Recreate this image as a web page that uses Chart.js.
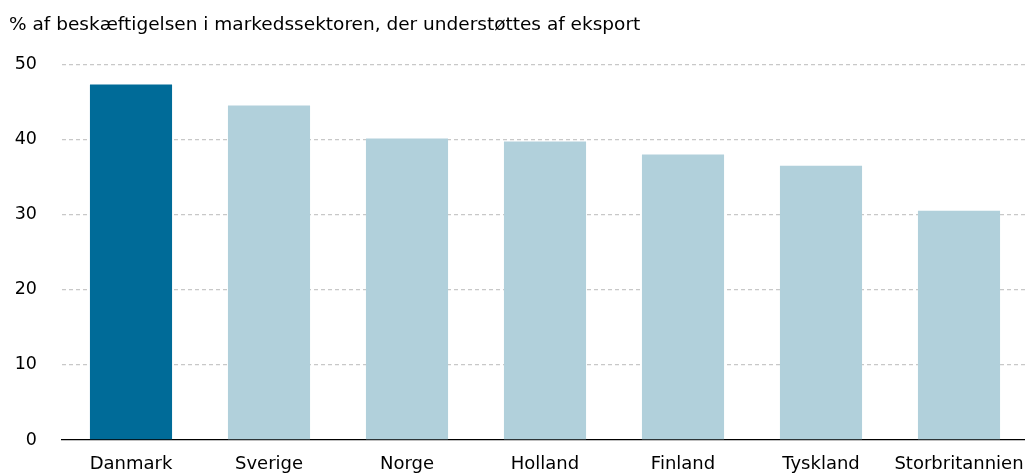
<!DOCTYPE html>
<html>
<head>
<meta charset="utf-8">
<script src="https://cdn.jsdelivr.net/npm/chart.js@4.4.1/dist/chart.umd.min.js"></script>
<style>
  html, body { margin: 0; padding: 0; background: #fff; overflow: hidden; }
  #wrap { width: 1025px; height: 475px; overflow: hidden; }
  #inner { width: 1028px; height: 475px; position: relative; }
</style>
</head>
<body>
<div id="wrap"><div id="inner"><canvas id="c"></canvas></div></div>
<script>
const categories = ["Danmark", "Sverige", "Norge", "Holland", "Finland", "Tyskland", "Storbritannien"];
const values = [47.3, 44.5, 40.1, 39.7, 38.0, 36.5, 30.5];
const barColors = ["#006b98", "#b1d0db", "#b1d0db", "#b1d0db", "#b1d0db", "#b1d0db", "#b1d0db"];
const yTicks = [0, 10, 20, 30, 40, 50];
const titleText = "% af beskæftigelsen i markedssektoren, der understøttes af eksport";

const FONT = "'DejaVu Sans', Verdana, sans-serif";

new Chart(document.getElementById('c'), {
  type: 'bar',
  data: {
    labels: categories,
    datasets: [{
      data: values,
      backgroundColor: barColors,
      borderWidth: 0,
      categoryPercentage: 0.595,
      barPercentage: 1.0
    }]
  },
  options: {
    responsive: true,
    maintainAspectRatio: false,
    animation: false,
    layout: { padding: { left: 9, right: 0, top: 0, bottom: 0 } },
    plugins: {
      legend: { display: false },
      tooltip: { enabled: false },
      title: {
        display: true,
        text: titleText,
        align: 'start',
        color: '#000',
        font: { family: FONT, size: 18.5, weight: 'normal', lineHeight: 1.2 },
        padding: { top: 14, bottom: 28 }
      }
    },
    scales: {
      x: {
        grid: { display: false, drawTicks: false },
        border: { display: true, color: '#000', width: 1.2 },
        afterFit: (s) => { s.paddingLeft = 0; s.paddingRight = 0; s.height = 35; },
        ticks: {
          color: '#000',
          font: { family: FONT, size: 18, lineHeight: 1.2 },
          padding: 14,
          maxRotation: 0,
          autoSkip: false
        }
      },
      y: {
        min: 0,
        max: 50,
        afterBuildTicks: (s) => { s.ticks = yTicks.map(v => ({ value: v })); },
        afterFit: (s) => { s.width = 53; s.paddingTop = 0; s.paddingBottom = 0; },
        grid: {
          color: (ctx) => ctx.tick && ctx.tick.value === 0 ? 'rgba(0,0,0,0)' : '#c8c8c8',
          lineWidth: 1.3,
          drawTicks: false
        },
        border: { display: false, dash: [4, 3] },
        ticks: {
          color: '#000',
          font: { family: FONT, size: 17.5 },
          padding: 25
        }
      }
    }
  }
});
</script>
</body>
</html>
